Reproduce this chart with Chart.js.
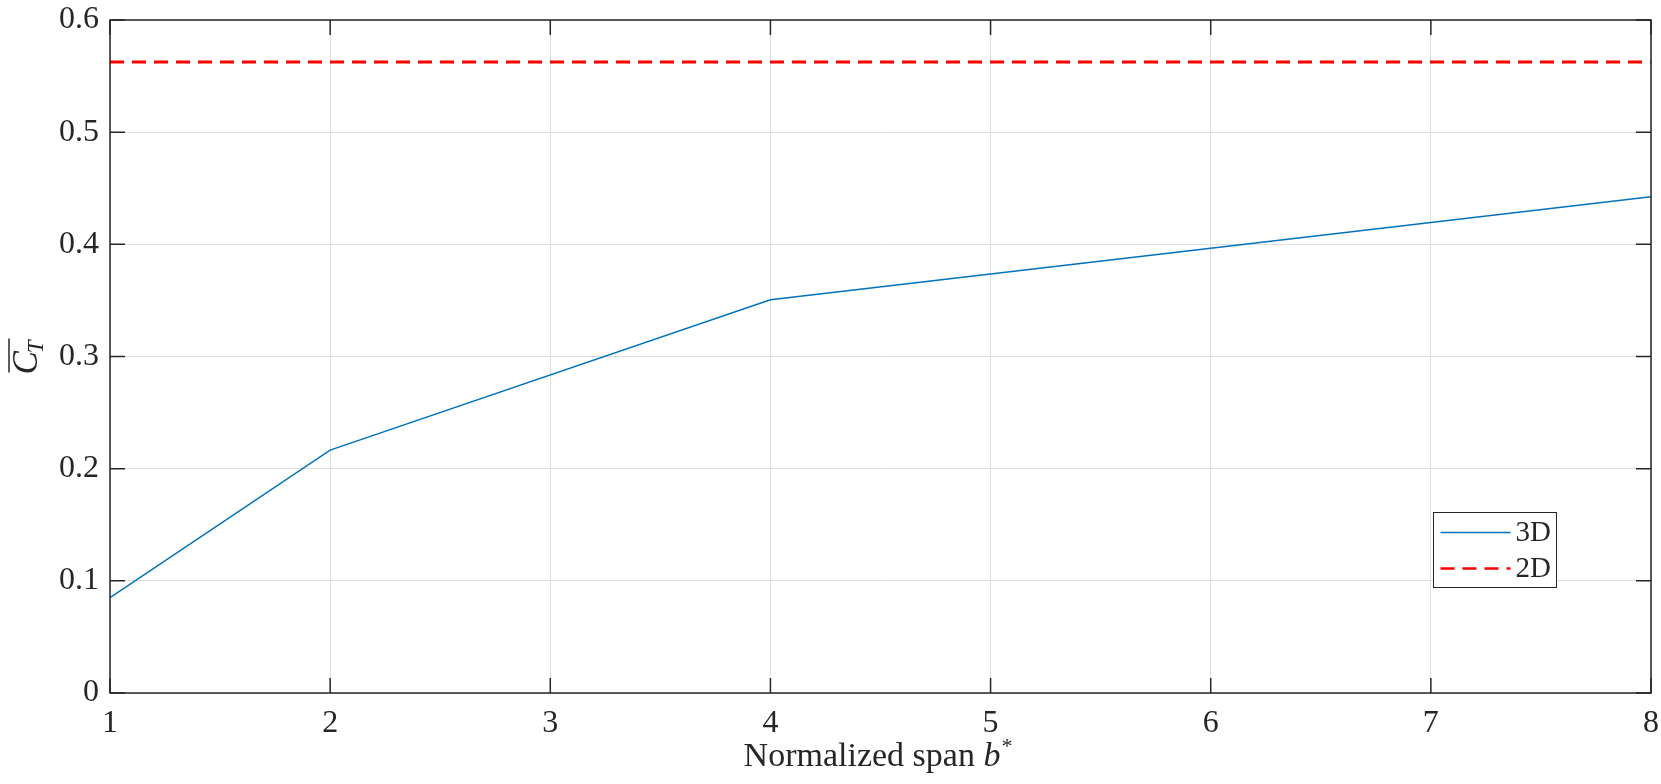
<!DOCTYPE html>
<html>
<head>
<meta charset="utf-8">
<script src="https://cdn.jsdelivr.net/npm/chart.js@4/dist/chart.umd.min.js"></script>
<style>
  body { margin: 0; background: #fff; }
</style>
</head>
<body>
<canvas id="myChart" width="1661" height="784"></canvas>
<script>
    let spanValues = [1, 2, 4, 8];
    let ct3D = [0.085, 0.2165, 0.3505, 0.4425];
    let ct2D = 0.5625;
    let xTicks = [1, 2, 3, 4, 5, 6, 7, 8];
    let yTicks = [0, 0.1, 0.2, 0.3, 0.4, 0.5, 0.6];
    let seriesNames = ["3D", "2D"];
    let seriesColors = ["#0072BD", "#FF0000"];
    let xLabelParts = ["Normalized span ", "b", "*"];
    let yLabelParts = ["C", "T"];

    let fontName = "'Liberation Serif', serif";
    let axisColor = "#262626";
    let tickLen = 15;

    // box, inward ticks, axis labels and legend in the MATLAB look
    let matlabAxes = {
      id: "matlabAxes",
      afterDraw(chart) {
        let ctx = chart.ctx;
        let a = chart.chartArea;
        let xs = chart.scales.x;
        let ys = chart.scales.y;
        ctx.save();
        ctx.strokeStyle = axisColor;
        ctx.lineWidth = 1.5;
        ctx.strokeRect(a.left, a.top, a.right - a.left, a.bottom - a.top);

        ctx.beginPath();
        xTicks.forEach(v => {
          let px = xs.getPixelForValue(v);
          ctx.moveTo(px, a.bottom); ctx.lineTo(px, a.bottom - tickLen);
          ctx.moveTo(px, a.top); ctx.lineTo(px, a.top + tickLen);
        });
        yTicks.forEach(v => {
          let py = ys.getPixelForValue(v);
          ctx.moveTo(a.left, py); ctx.lineTo(a.left + tickLen, py);
          ctx.moveTo(a.right, py); ctx.lineTo(a.right - tickLen, py);
        });
        ctx.stroke();

        // x label
        ctx.fillStyle = axisColor;
        ctx.textBaseline = "alphabetic";
        ctx.textAlign = "left";
        let f1 = "34px " + fontName, f2 = "italic 34px " + fontName, f3 = "22px " + fontName;
        ctx.font = f1; let w1 = ctx.measureText(xLabelParts[0]).width;
        ctx.font = f2; let w2 = ctx.measureText(xLabelParts[1]).width;
        ctx.font = f3; let w3 = ctx.measureText(xLabelParts[2]).width;
        let x0 = (a.left + a.right) / 2 - 3 - (w1 + w2 + w3) / 2;
        let by = 766;
        ctx.font = f1; ctx.fillText(xLabelParts[0], x0, by);
        ctx.font = f2; ctx.fillText(xLabelParts[1], x0 + w1, by);
        ctx.font = f3; ctx.fillText(xLabelParts[2], x0 + w1 + w2 + 1, by - 13);

        // y label: overline C with subscript T
        ctx.save();
        ctx.translate(37, (a.top + a.bottom) / 2);
        ctx.rotate(-Math.PI / 2);
        let fc = "italic 35px " + fontName, ft = "italic 23px " + fontName;
        ctx.font = fc; let wc = ctx.measureText(yLabelParts[0]).width;
        ctx.font = ft; let wt = ctx.measureText(yLabelParts[1]).width;
        let s = -(wc + wt) / 2;
        ctx.font = fc; ctx.fillText(yLabelParts[0], s, 0);
        ctx.font = ft; ctx.fillText(yLabelParts[1], s + wc - 2, 6);
        ctx.lineWidth = 1.5;
        ctx.beginPath();
        ctx.moveTo(s + 2, -28); ctx.lineTo(s + wc + wt, -28);
        ctx.stroke();
        ctx.restore();

        // legend
        let lx = 1433.5, ly = 512.5, lw = 123, lh = 75;
        ctx.fillStyle = "#fff";
        ctx.fillRect(lx, ly, lw, lh);
        ctx.strokeStyle = axisColor;
        ctx.lineWidth = 1;
        ctx.strokeRect(lx, ly, lw, lh);
        ctx.font = "29px " + fontName;
        ctx.textBaseline = "middle";
        chart.data.datasets.forEach((ds, i) => {
          let yy = ly + 20 + i * 36;
          ctx.strokeStyle = ds.borderColor;
          ctx.lineWidth = i === 0 ? 1.5 : 2.5;
          ctx.setLineDash(ds.borderDash || []);
          ctx.beginPath();
          ctx.moveTo(lx + 7, yy); ctx.lineTo(lx + 77, yy);
          ctx.stroke();
          ctx.setLineDash([]);
          ctx.fillStyle = axisColor;
          ctx.fillText(ds.label, lx + 82, yy + 1);
        });
        ctx.restore();
      }
    };

    new Chart("myChart", {
      type: "line",
      data: {
        datasets: [{
          label: seriesNames[0],
          data: spanValues.map((x, i) => ({ x: x, y: ct3D[i] })),
          borderColor: seriesColors[0],
          borderWidth: 1.5,
          pointRadius: 0,
          tension: 0,
          fill: false
        }, {
          label: seriesNames[1],
          data: [{ x: xTicks[0], y: ct2D }, { x: xTicks[xTicks.length - 1], y: ct2D }],
          borderColor: seriesColors[1],
          borderWidth: 3,
          borderDash: [14, 8],
          pointRadius: 0,
          fill: false
        }]
      },
      options: {
        responsive: false,
        animation: false,
        layout: { padding: { top: 20, right: 10, left: 0, bottom: 0 } },
        plugins: {
          legend: { display: false },
          tooltip: { enabled: false }
        },
        scales: {
          x: {
            type: "linear",
            min: xTicks[0],
            max: xTicks[xTicks.length - 1],
            afterFit: s => { s.height = 91; s.paddingLeft = 0; s.paddingRight = 0; },
            ticks: {
              stepSize: 1,
              autoSkip: false,
              maxRotation: 0,
              padding: 11,
              color: axisColor,
              font: { family: fontName, size: 32 }
            },
            grid: { color: "#dedede", lineWidth: 1, drawTicks: false },
            border: { display: false }
          },
          y: {
            min: yTicks[0],
            max: yTicks[yTicks.length - 1],
            afterFit: s => { s.width = 110; s.paddingTop = 0; s.paddingBottom = 0; },
            ticks: {
              stepSize: 0.1,
              padding: 11,
              color: axisColor,
              font: { family: fontName, size: 32 },
              callback: v => (Math.abs(v) < 1e-9 ? "0" : v.toFixed(1))
            },
            grid: { color: "#dedede", lineWidth: 1, drawTicks: false },
            border: { display: false }
          }
        }
      },
      plugins: [matlabAxes]
    });
</script>
</body>
</html>
